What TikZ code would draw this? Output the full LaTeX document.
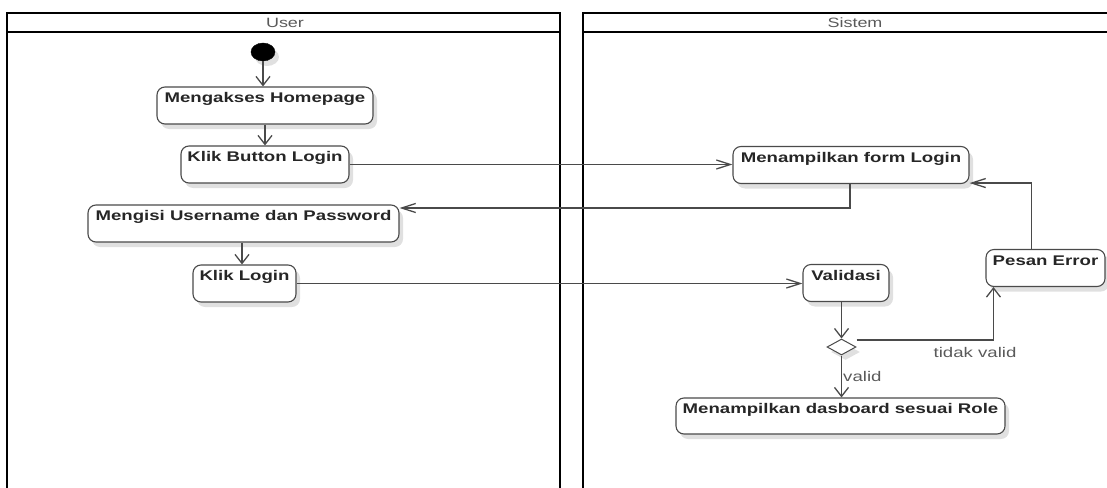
\documentclass[tikz,border=0pt]{standalone}
\usepackage{fontspec}
\setmainfont{Liberation Sans}[FakeStretch=1.33]
\usetikzlibrary{arrows.meta,shadows,shapes.geometric}
\definecolor{edgegray}{HTML}{4A4A4A}
\definecolor{labelgray}{HTML}{5A5A5A}
\begin{document}
\begin{tikzpicture}[x=1pt,y=-1pt,
  lane/.style={draw=black,line width=2pt},
  laneline/.style={draw=black,line width=1.5pt},
  lanetitle/.style={text=labelgray,font=\fontsize{13.5}{15}\selectfont,inner sep=0pt},
  softshadow/.style={drop shadow={shadow xshift=4pt,shadow yshift=-5pt,fill=black!12,opacity=1}},
  act/.style={draw=edgegray,line width=1.1pt,rounded corners=8pt,fill=white,softshadow,
    font=\fontsize{14}{16}\selectfont\bfseries,text=black!85,
    inner xsep=0pt,inner ysep=0pt,text height=15.5pt,text depth=21.5pt},
  startdot/.style={ellipse,fill=black,draw=black,minimum width=24pt,minimum height=18pt,inner sep=0pt,softshadow},
  decision/.style={diamond,draw=edgegray,line width=1pt,fill=white,minimum width=29pt,minimum height=16pt,inner sep=0pt,softshadow},
  vflow/.style={draw=edgegray,line width=1.3pt,-{Straight Barb[length=9pt,width=14pt,line width=1.3pt]}},
  hflow/.style={draw=edgegray,line width=1.3pt,-{Straight Barb[length=14pt,width=9pt,line width=1.3pt]}},
  guard/.style={text=labelgray,font=\fontsize{14}{16}\selectfont,inner sep=0pt}]

\useasboundingbox (0,0) rectangle (1107,487);
\clip (0,0) rectangle (1107,487);

% swimlanes
\draw[lane] (7,500) -- (7,13) -- (560,13) -- (560,500);
\draw[laneline] (7,32) -- (560,32);
\draw[lane] (583,500) -- (583,13) -- (1130,13);
\draw[laneline] (583,32) -- (1130,32);
\node[lanetitle] (userlane) at (285,22.5) {User};
\node[lanetitle] (syslane) at (855,22.5) {Sistem};

% user activities
\node[startdot] (start) at (263,52) {};
\node[act,minimum width=216pt] (home) at (265,105.5) {Mengakses Homepage};
\node[act,minimum width=168pt] (btn) at (265,164.5) {Klik Button Login};
\node[act,minimum width=311pt] (fill) at (243.5,223.5) {Mengisi Username dan Password};
\node[act,minimum width=103pt] (klik) at (244.5,283.5) {Klik Login};

% system activities
\node[act,minimum width=236pt] (form) at (851,165) {Menampilkan form Login};
\node[act,minimum width=86pt] (valid) at (846,283) {Validasi};
\node[act,minimum width=119pt] (err) at (1045.5,268) {Pesan Error};
\node[decision] (dia) at (841.5,347) {};
\node[act,minimum width=329pt,text depth=20.5pt] (dash) at (840.5,416) {Menampilkan dasboard sesuai Role};

% control flow
\draw[vflow] (start.south) -- (start.south |- home.north);
\draw[vflow] (home.south -| btn.south) -- (btn.north);
\draw[hflow] (btn.east) -- (btn.east -| form.west);
\draw[hflow] ([xshift=-1pt]form.south) |- ([yshift=15.5pt]fill.east);
\draw[vflow] ([xshift=-1.5pt]fill.south) -- ([xshift=-1.5pt]fill.south |- klik.north);
\draw[hflow] (klik.east) -- (klik.east -| valid.west);
\draw[vflow] (valid.south -| dia.north) -- (dia.north);
\draw[vflow] ([yshift=7pt]dia.east) -| ([xshift=8pt]err.south west);
\draw[hflow] ([xshift=46pt]err.north west) |- ([yshift=1pt]form.south east);
\draw[vflow] (dia.south) -- (dia.south |- dash.north);

% guards
\node[guard] (notok) at (975,352) {tidak valid};
\node[guard,anchor=west] (ok) at (843,376) {valid};
\end{tikzpicture}
\end{document}
